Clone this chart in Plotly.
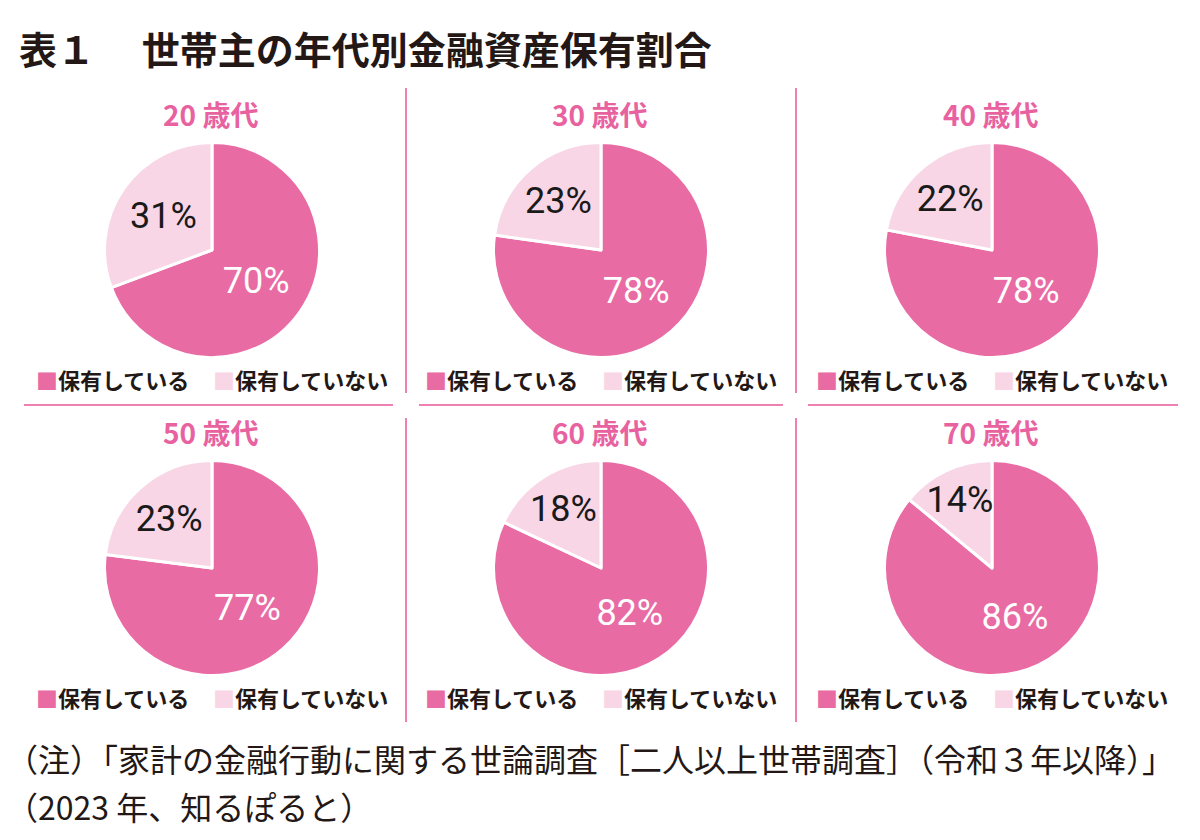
import plotly.graph_objects as go

# ---- data ----
ages = ["20 歳代", "30 歳代", "40 歳代", "50 歳代", "60 歳代", "70 歳代"]
slice_labels = ["保有している", "保有していない"]
holding = [70, 78, 78, 77, 82, 86]
not_holding = [31, 23, 22, 23, 18, 14]

title_text = "表１　 世帯主の年代別金融資産保有割合"
note_line1 = "（注）「家計の金融行動に関する世論調査［二人以上世帯調査］（令和３年以降）」"
note_line2 = "（2023 年、知るぽると）"

# ---- style ----
W, H = 1200, 840
DARK = "#E96BA4"
LIGHT = "#F8D6E6"
SUB = "#E8629F"
LINE = "#EE80B2"
INK = "#231815"
JP = "Noto Sans CJK JP"

col_cx = [212, 601, 992]
row_cy = [250, 568]
R = 107.5

fig = go.Figure()
annotations = []

def px(x):
    return x / W

def py(y):
    return 1 - y / H

for i, age in enumerate(ages):
    cx = col_cx[i % 3]
    cy = row_cy[i // 3]
    vals = [holding[i], not_holding[i]]
    fig.add_trace(go.Pie(
        labels=slice_labels,
        values=vals,
        text=[f"{v}%" for v in vals],
        textinfo="text",
        textposition="inside",
        insidetextorientation="horizontal",
        insidetextfont=dict(family="Roboto", size=36, color=["white", "#1a1a1a"]),
        marker=dict(colors=[DARK, LIGHT], line=dict(color="white", width=3)),
        direction="clockwise",
        rotation=0,
        sort=False,
        showlegend=False,
        hoverinfo="label+percent",
        domain=dict(x=[px(cx - R), px(cx + R)], y=[py(cy + R), py(cy - R)]),
    ))
    # panel heading
    annotations.append(dict(
        text=f"<b>{age}</b>", x=px(cx - 2), y=py(cy - 136), xref="paper", yref="paper",
        xanchor="center", yanchor="middle", showarrow=False,
        font=dict(family=JP, size=28, color=SUB),
    ))
    # legend items
    annotations.append(dict(
        text=f"<span style='color:{DARK}'>■</span><b>{slice_labels[0]}</b>",
        x=px(cx - 178), y=py(cy + 129), xref="paper", yref="paper",
        xanchor="left", yanchor="middle", showarrow=False,
        font=dict(family=JP, size=22, color=INK),
    ))
    annotations.append(dict(
        text=f"<span style='color:{LIGHT}'>■</span><b>{slice_labels[1]}</b>",
        x=px(cx - 1), y=py(cy + 129), xref="paper", yref="paper",
        xanchor="left", yanchor="middle", showarrow=False,
        font=dict(family=JP, size=22, color=INK),
    ))

# title and notes
annotations.append(dict(
    text=f"<b>{title_text}</b>", x=px(17), y=py(47), xref="paper", yref="paper",
    xanchor="left", yanchor="middle", showarrow=False,
    font=dict(family=JP, size=38, color=INK),
))
annotations.append(dict(
    text=note_line1, x=px(4), y=py(758), xref="paper", yref="paper",
    xanchor="left", yanchor="middle", showarrow=False,
    font=dict(family=JP, size=32, color=INK),
))
annotations.append(dict(
    text=note_line2, x=px(4), y=py(806), xref="paper", yref="paper",
    xanchor="left", yanchor="middle", showarrow=False,
    font=dict(family=JP, size=32, color=INK),
))

# separator lines
shapes = []
line_style = dict(color=LINE, width=2)
for vx in [406, 796]:
    shapes.append(dict(type="line", xref="paper", yref="paper",
                       x0=px(vx), x1=px(vx), y0=py(88), y1=py(393), line=line_style))
    shapes.append(dict(type="line", xref="paper", yref="paper",
                       x0=px(vx), x1=px(vx), y0=py(418), y1=py(722), line=line_style))
for hx0, hx1 in [(24, 393), (419, 783), (808, 1178)]:
    shapes.append(dict(type="line", xref="paper", yref="paper",
                       x0=px(hx0), x1=px(hx1), y0=py(405), y1=py(405), line=line_style))

fig.update_layout(
    width=W, height=H,
    margin=dict(l=0, r=0, t=0, b=0),
    paper_bgcolor="white", plot_bgcolor="white",
    annotations=annotations,
    shapes=shapes,
    showlegend=False,
    uniformtext=dict(minsize=36, mode="show"),
)

fig.write_html("out.html")
